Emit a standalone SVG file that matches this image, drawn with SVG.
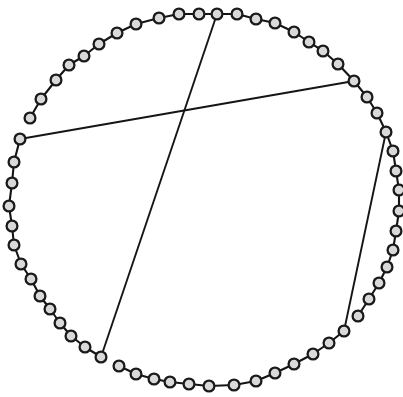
<svg xmlns="http://www.w3.org/2000/svg" width="403" height="397" viewBox="0 0 403 397">
<style>
.bg{fill:#ffffff}
.chain{fill:none;stroke:#151515;stroke-width:2.1;stroke-linejoin:round}
.chord{fill:none;stroke:#151515;stroke-width:1.9}
.nd{fill:#d9d9d9;stroke:#1a1a1a;stroke-width:2.3}
</style>
<rect class="bg" x="0" y="0" width="403" height="397"/>
<g id="connectors">
<polyline class="chain" points="30,118 41,99 56,80 69,65 84,56 99,44 117,33 136,24 159,18 179,14 199,14 217,14 237,14 256,19 275,23 294,32 309,42 323,51 338,64 354,81 367,97 377,113 386,132 393,151 396,171 399,190 399,211 396,231 393,250 387,267 379,283 369,299 358,316"/>
<polyline class="chain" points="344,331 329,343 313,354 294,364 275,373 256,381 234,385 209,386 189,384 170,382 154,379 136,374 119,366"/>
<polyline class="chain" points="101,357 85,347 71,336 60,323 50,309 40,296 31,279 21,264 14,245 12,226 9,206 12,183 14,162 20,139"/>
<line class="chord" x1="20" y1="139" x2="354" y2="81"/>
<line class="chord" x1="217" y1="14" x2="101" y2="357"/>
<line class="chord" x1="386" y1="132" x2="344" y2="331"/>
</g>
<g id="n1"><circle class="nd" cx="30" cy="118" r="5.4"/></g>
<g id="n2"><circle class="nd" cx="41" cy="99" r="5.4"/></g>
<g id="n3"><circle class="nd" cx="56" cy="80" r="5.4"/></g>
<g id="n4"><circle class="nd" cx="69" cy="65" r="5.4"/></g>
<g id="n5"><circle class="nd" cx="84" cy="56" r="5.4"/></g>
<g id="n6"><circle class="nd" cx="99" cy="44" r="5.4"/></g>
<g id="n7"><circle class="nd" cx="117" cy="33" r="5.4"/></g>
<g id="n8"><circle class="nd" cx="136" cy="24" r="5.4"/></g>
<g id="n9"><circle class="nd" cx="159" cy="18" r="5.4"/></g>
<g id="n10"><circle class="nd" cx="179" cy="14" r="5.4"/></g>
<g id="n11"><circle class="nd" cx="199" cy="14" r="5.4"/></g>
<g id="n12"><circle class="nd" cx="217" cy="14" r="5.4"/></g>
<g id="n13"><circle class="nd" cx="237" cy="14" r="5.4"/></g>
<g id="n14"><circle class="nd" cx="256" cy="19" r="5.4"/></g>
<g id="n15"><circle class="nd" cx="275" cy="23" r="5.4"/></g>
<g id="n16"><circle class="nd" cx="294" cy="32" r="5.4"/></g>
<g id="n17"><circle class="nd" cx="309" cy="42" r="5.4"/></g>
<g id="n18"><circle class="nd" cx="323" cy="51" r="5.4"/></g>
<g id="n19"><circle class="nd" cx="338" cy="64" r="5.4"/></g>
<g id="n20"><circle class="nd" cx="354" cy="81" r="5.4"/></g>
<g id="n21"><circle class="nd" cx="367" cy="97" r="5.4"/></g>
<g id="n22"><circle class="nd" cx="377" cy="113" r="5.4"/></g>
<g id="n23"><circle class="nd" cx="386" cy="132" r="5.4"/></g>
<g id="n24"><circle class="nd" cx="393" cy="151" r="5.4"/></g>
<g id="n25"><circle class="nd" cx="396" cy="171" r="5.4"/></g>
<g id="n26"><circle class="nd" cx="399" cy="190" r="5.4"/></g>
<g id="n27"><circle class="nd" cx="399" cy="211" r="5.4"/></g>
<g id="n28"><circle class="nd" cx="396" cy="231" r="5.4"/></g>
<g id="n29"><circle class="nd" cx="393" cy="250" r="5.4"/></g>
<g id="n30"><circle class="nd" cx="387" cy="267" r="5.4"/></g>
<g id="n31"><circle class="nd" cx="379" cy="283" r="5.4"/></g>
<g id="n32"><circle class="nd" cx="369" cy="299" r="5.4"/></g>
<g id="n33"><circle class="nd" cx="358" cy="316" r="5.4"/></g>
<g id="n34"><circle class="nd" cx="344" cy="331" r="5.4"/></g>
<g id="n35"><circle class="nd" cx="329" cy="343" r="5.4"/></g>
<g id="n36"><circle class="nd" cx="313" cy="354" r="5.4"/></g>
<g id="n37"><circle class="nd" cx="294" cy="364" r="5.4"/></g>
<g id="n38"><circle class="nd" cx="275" cy="373" r="5.4"/></g>
<g id="n39"><circle class="nd" cx="256" cy="381" r="5.4"/></g>
<g id="n40"><circle class="nd" cx="234" cy="385" r="5.4"/></g>
<g id="n41"><circle class="nd" cx="209" cy="386" r="5.4"/></g>
<g id="n42"><circle class="nd" cx="189" cy="384" r="5.4"/></g>
<g id="n43"><circle class="nd" cx="170" cy="382" r="5.4"/></g>
<g id="n44"><circle class="nd" cx="154" cy="379" r="5.4"/></g>
<g id="n45"><circle class="nd" cx="136" cy="374" r="5.4"/></g>
<g id="n46"><circle class="nd" cx="119" cy="366" r="5.4"/></g>
<g id="n47"><circle class="nd" cx="101" cy="357" r="5.4"/></g>
<g id="n48"><circle class="nd" cx="85" cy="347" r="5.4"/></g>
<g id="n49"><circle class="nd" cx="71" cy="336" r="5.4"/></g>
<g id="n50"><circle class="nd" cx="60" cy="323" r="5.4"/></g>
<g id="n51"><circle class="nd" cx="50" cy="309" r="5.4"/></g>
<g id="n52"><circle class="nd" cx="40" cy="296" r="5.4"/></g>
<g id="n53"><circle class="nd" cx="31" cy="279" r="5.4"/></g>
<g id="n54"><circle class="nd" cx="21" cy="264" r="5.4"/></g>
<g id="n55"><circle class="nd" cx="14" cy="245" r="5.4"/></g>
<g id="n56"><circle class="nd" cx="12" cy="226" r="5.4"/></g>
<g id="n57"><circle class="nd" cx="9" cy="206" r="5.4"/></g>
<g id="n58"><circle class="nd" cx="12" cy="183" r="5.4"/></g>
<g id="n59"><circle class="nd" cx="14" cy="162" r="5.4"/></g>
<g id="n60"><circle class="nd" cx="20" cy="139" r="5.4"/></g>
</svg>
